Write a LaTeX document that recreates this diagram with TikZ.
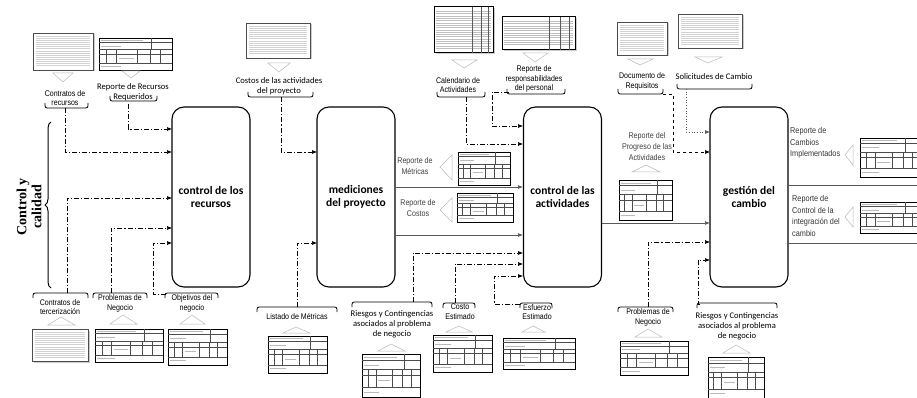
\documentclass[tikz,border=0pt]{standalone}
\usepackage{fontspec}
\setmainfont{Carlito}
\newfontfamily\nar[FakeStretch=0.86]{Liberation Sans}
\newfontfamily\tms{Liberation Serif}
\usetikzlibrary{arrows.meta,decorations.pathreplacing}

\tikzset{
  mainbox/.style={draw, line width=1.1pt, rounded corners=12pt, minimum width=78pt, minimum height=180pt, align=center, inner sep=2pt, font=\bfseries\fontsize{11.5}{15}\selectfont},
  lbl/.style={font=\nar\fontsize{8.2}{9.8}\selectfont, align=center, inner sep=0pt},
  clbl/.style={font=\fontsize{8.6}{10.2}\selectfont, align=center, inner sep=0pt},
  glbl/.style={font=\nar\fontsize{8.3}{11}\selectfont, align=center, inner sep=0pt, text=black!75},
  rlbl/.style={font=\nar\fontsize{8.5}{11.5}\selectfont, align=left, inner sep=0pt, text=black!80},
  ddline/.style={line width=0.6pt, dash pattern=on 5pt off 2pt on 1.2pt off 2pt},
  tip/.style={-{Latex[length=5pt,width=4pt]}},
  solidarr/.style={black!65, line width=0.7pt, -{Latex[length=5pt,width=4pt]}},
  brk/.style={line width=0.8pt},
  tri/.style={gray!55, line width=0.5pt}
}

\newcommand\tdoc[4]{%
 \begin{scope}
 \fill[gray!40] ({#1+1.5},{#2+1.5}) rectangle ({#3+1.5},{#4+1.5});
 \draw[gray!60!black,line width=0.5pt,fill=white] (#1,#2) rectangle (#3,#4);
 \pgfmathtruncatemacro\thN{(#4-#2-6)/2.1}
 \foreach \k in {0,...,\thN}{\draw[gray!35,line width=0.25pt] ({#1+3},{#2+3+\k*2.1}) -- ({#3-3},{#2+3+\k*2.1});}
 \end{scope}}

\newcommand\fdoc[4]{%
 \begin{scope}
 \pgfmathsetmacro\thW{#3-#1}\pgfmathsetmacro\thH{#4-#2}
 \draw[line width=0.9pt,fill=white] (#1,#2) rectangle (#3,#4);
 \draw[black!70,line width=0.3pt]
  (#1,{#2+0.14*\thH}) -- (#3,{#2+0.14*\thH})
  ({#1+0.72*\thW},#2) -- ({#1+0.72*\thW},{#2+0.36*\thH})
  (#1,{#2+0.36*\thH}) -- (#3,{#2+0.36*\thH})
  (#1,{#2+0.5*\thH}) -- (#3,{#2+0.5*\thH})
  (#1,{#2+0.78*\thH}) -- (#3,{#2+0.78*\thH});
 \foreach \f in {0.1,0.24,0.52,0.7,0.84}{\draw[black!70,line width=0.3pt] ({#1+\f*\thW},{#2+0.36*\thH}) -- ({#1+\f*\thW},{#2+0.78*\thH});}
 \draw[gray!55,line width=0.5pt] ({#1+2},{#2+0.07*\thH}) -- ({#1+0.6*\thW},{#2+0.07*\thH})
   ({#1+2},{#2+0.25*\thH}) -- ({#1+0.3*\thW},{#2+0.25*\thH})
   ({#1+2},{#2+0.88*\thH}) -- ({#1+0.3*\thW},{#2+0.88*\thH})
   ({#1+0.28*\thW},{#2+0.62*\thH}) -- ({#1+0.48*\thW},{#2+0.62*\thH});
 \end{scope}}

\newcommand\sdoc[4]{%
 \begin{scope}
 \pgfmathsetmacro\thW{#3-#1}
 \fill[gray!40] ({#1+1.5},{#2+1.5}) rectangle ({#3+1.5},{#4+1.5});
 \draw[line width=1pt,fill=white] (#1,#2) rectangle (#3,#4);
 \pgfmathtruncatemacro\thN{(#4-#2-6)/2.3}
 \foreach \k in {1,...,\thN}{\draw[gray!50,line width=0.3pt] ({#1+2},{#2+2+\k*2.3}) -- ({#3-2},{#2+2+\k*2.3});}
 \foreach \f in {0.64,0.8,0.92}{\draw[gray!70!black,line width=0.3pt] ({#1+\f*\thW},#2) -- ({#1+\f*\thW},#4);}
 \end{scope}}

\newcommand\ubr[3]{\draw[brk] (#1,{#3-5}) .. controls (#1,#3) .. ({#1+5},#3) -- ({#2-5},#3) .. controls (#2,#3) .. (#2,{#3-5});}
\newcommand\obr[3]{\draw[brk] (#1,{#3+5}) .. controls (#1,#3) .. ({#1+5},#3) -- ({#2-5},#3) .. controls (#2,#3) .. (#2,{#3+5});}

\begin{document}
\begin{tikzpicture}[x=1pt,y=-1pt]
\useasboundingbox (0,0) rectangle (917,398);

% main boxes
\node[mainbox] (b1) at (211,197) {control de los\\[-2pt]recursos};
\node[mainbox] (b2) at (356,197) {mediciones\\[-2pt]del proyecto};
\node[mainbox] (b3) at (562.5,197) {control de las\\[-2pt]actividades};
\node[mainbox] (b4) at (749,197) {gestión del\\[-2pt]cambio};

% Control y calidad
\node[font=\tms\bfseries\fontsize{14}{15}\selectfont, rotate=90, align=center, inner sep=0pt] (cc) at (29,207) {Control y\\calidad};
\draw[decorate, decoration={brace, amplitude=6pt}, line width=1pt] (51,288) -- (51,122);

% ---------- top documents ----------
\tdoc{33}{33}{93}{70}
\draw[tri] (53,73) -- (73,73) -- (63,82) -- cycle;
\node[lbl] (t1) at (65,98) {Contratos de\\recursos};
\ubr{45}{88}{108}
\coordinate (t1b) at (65,108);

\fdoc{99}{38}{172}{70}
\draw[tri] (122,71) -- (140,71) -- (131,78) -- cycle;
\node[clbl] (t2) at (133,92) {Reporte de Recursos\\Requeridos};
\ubr{110}{157}{101}
\coordinate (t2b) at (128,104);

\tdoc{246}{23}{310}{58}
\draw[tri] (268,63) -- (290,63) -- (279,72) -- cycle;
\node[clbl] (t3) at (279,86) {Costos de las actividades\\del proyecto};
\ubr{248}{313}{97}
\coordinate (t3b) at (281,97);

\sdoc{434}{7}{493}{53}
\draw[tri] (452,60) -- (477,60) -- (464,68) -- cycle;
\node[lbl] (t4) at (458,85) {Calendario de\\Actividades};
\ubr{437}{485}{97}
\coordinate (t4b) at (466,97);

\sdoc{502}{17}{575}{50}
\draw[tri] (523,53) -- (548,53) -- (535,62) -- cycle;
\node[lbl] (t5) at (534,79) {Reporte de\\responsabilidades\\del personal};
\ubr{507}{565}{94}
\coordinate (t5b) at (509,92);
\coordinate (t5k) at (492,92);

\tdoc{617}{22}{667}{55}
\draw[tri] (628,59) -- (653,59) -- (640,65) -- cycle;
\node[lbl] (t6) at (642,81) {Documento de\\Requisitos};
\ubr{618}{663}{94}
\coordinate (t6b) at (663,94);
\coordinate (t6k) at (673,94);

\tdoc{678}{14}{742}{48}
\draw[tri] (695,57) -- (722,57) -- (708,63) -- cycle;
\node[clbl] (t7) at (714,77) {Solicitudes de Cambio};
\ubr{677}{752}{89}
\coordinate (t7b) at (686,89);

% ---------- middle ----------
\node[glbl] (m1) at (415,166) {Reporte de\\Métricas};
\draw[tri] (452,155) -- (452,180) -- (440,167) -- cycle;
\fdoc{458}{152}{510}{185}
\node[glbl] (m2) at (418,208) {Reporte de\\Costos};
\draw[tri] (452,198) -- (452,222) -- (440,210) -- cycle;
\fdoc{457}{193}{513}{222}

\node[glbl] (m3) at (647,147) {Reporte del\\Progreso de las\\Actividades};
\draw[tri] (632,172) -- (660,172) -- (646,165) -- cycle;
\fdoc{619}{180}{672}{220}

\node[rlbl, anchor=west] (r1) at (790,143) {Reporte de\\Cambios\\Implementados};
\draw[tri] (853,145) -- (853,165) -- (845,155) -- cycle;
\fdoc{860}{138}{922}{177}
\node[rlbl, anchor=west] (r2) at (792,216) {Reporte de\\Control de la\\integración del\\cambio};
\draw[tri] (853,207) -- (853,227) -- (845,217) -- cycle;
\fdoc{860}{202}{922}{233}

% ---------- bottom ----------
\obr{33}{88}{293}
\node[lbl] (u1) at (60,307) {Contratos de\\tercerización};
\draw[tri] (48,325) -- (75,325) -- (61,317) -- cycle;
\tdoc{32}{329}{88}{361}
\coordinate (u1b) at (67,293);

\obr{93}{147}{293}
\node[lbl] (u2) at (120,303) {Problemas de\\Negocio};
\draw[tri] (110,324) -- (137,324) -- (123,315) -- cycle;
\fdoc{95}{329}{163}{362}
\coordinate (u2b) at (111,293);

\obr{165}{218}{293}
\node[lbl] (u3) at (192,303) {Objetivos del\\negocio};
\draw[tri] (180,324) -- (205,324) -- (192,315) -- cycle;
\fdoc{168}{329}{227}{365}
\coordinate (u3b) at (166,294);
\coordinate (u3k) at (153,294);

\obr{257}{337}{307}
\node[lbl] (u4) at (297,317) {Listado de Métricas};
\draw[tri] (283,333) -- (310,333) -- (296,327) -- cycle;
\fdoc{268}{336}{327}{373}
\coordinate (u4b) at (297,307);

\obr{352}{432}{302}
\node[clbl] (u5) at (392,324) {Riesgos y Contingencias\\asociados al problema\\de negocio};
\draw[tri] (378,351) -- (405,351) -- (391,344) -- cycle;
\fdoc{362}{354}{420}{397}
\coordinate (u5b) at (413,302);

\obr{443}{475}{303}
\node[lbl] (u6) at (460,312) {Costo\\Estimado};
\draw[tri] (446,332) -- (472,332) -- (459,326) -- cycle;
\fdoc{433}{335}{492}{372}
\coordinate (u6b) at (455,303);

\obr{520}{552}{303}
\node[lbl] (u7) at (537,312) {Esfuerzo\\Estimado};
\draw[tri] (522,332) -- (545,332) -- (533,326) -- cycle;
\fdoc{503}{338}{575}{369}
\coordinate (u7b) at (520,304);
\coordinate (u7k) at (494,304);

\obr{618}{673}{307}
\node[lbl] (u8) at (648,317) {Problemas de\\Negocio};
\draw[tri] (635,337) -- (662,337) -- (648,329) -- cycle;
\fdoc{620}{341}{688}{375}
\coordinate (u8b) at (648,307);

\obr{697}{777}{303}
\node[clbl] (u9) at (737,326) {Riesgos y Contingencias\\asociados al problema\\de negocio};
\draw[tri] (723,353) -- (750,353) -- (736,345) -- cycle;
\fdoc{708}{357}{764}{398}
\coordinate (u9b) at (700,304);
\coordinate (u9k) at (698,304);

% ---------- entry points on boxes ----------
\coordinate (a1) at (172,129);
\coordinate (a2) at (172,152);
\coordinate (a3) at (172,198);
\coordinate (a4) at (172,228);
\coordinate (a5) at (172,243);
\coordinate (c1) at (317,152);
\coordinate (c2) at (317,243);
\coordinate (e1) at (523,126);
\coordinate (e2) at (523,144);
\coordinate (e3) at (523,253);
\coordinate (e4) at (523,264);
\coordinate (e5) at (523,276);
\coordinate (g1) at (710,132);
\coordinate (g2) at (710,152);
\coordinate (g3) at (710,242);
\coordinate (g4) at (710,260);

% ---------- connectors ----------
\draw[ddline,tip] (t2b) |- (a1);
\draw[ddline,tip] (t1b) |- (a2);
\draw[ddline,tip] (u1b) |- (a3);
\draw[ddline,tip] (u2b) |- (a4);
\draw[ddline,tip] (u3b) -- (u3k) |- (a5);
\draw[ddline,tip] (t3b) |- (c1);
\draw[ddline,tip] (u4b) |- (c2);
\draw[ddline,tip] (t5b) -- (t5k) |- (e1);
\draw[ddline,tip] (t4b) |- (e2);
\draw[ddline,tip] (u5b) |- (e3);
\draw[ddline,tip] (u6b) |- (e4);
\draw[ddline,tip] (u7b) -- (u7k) |- (e5);
\draw[gray!70!black,line width=0.7pt,dotted,tip] (t7b) |- (g1);
\draw[line width=0.6pt,dashed,tip] (t6b) -- (t6k) |- (g2);
\draw[ddline,tip] (u8b) |- (g3);
\draw[ddline,tip] (u9b) -- (u9k) |- (g4);

% solid flows between boxes
\coordinate (s1) at (395,187); \coordinate (s1e) at (523,187);
\coordinate (s2) at (395,235); \coordinate (s2e) at (523,235);
\coordinate (s3) at (602,223); \coordinate (s3e) at (710,223);
\coordinate (s4) at (788,185); \coordinate (s4e) at (917,185);
\coordinate (s5) at (788,243); \coordinate (s5e) at (917,243);
\draw[solidarr] (s1) -- (s1e);
\draw[solidarr] (s2) -- (s2e);
\draw[solidarr] (s3) -- (s3e);
\draw[black!65,line width=0.7pt] (s4) -- (s4e);
\draw[black!65,line width=0.7pt] (s5) -- (s5e);
\end{tikzpicture}
\end{document}
